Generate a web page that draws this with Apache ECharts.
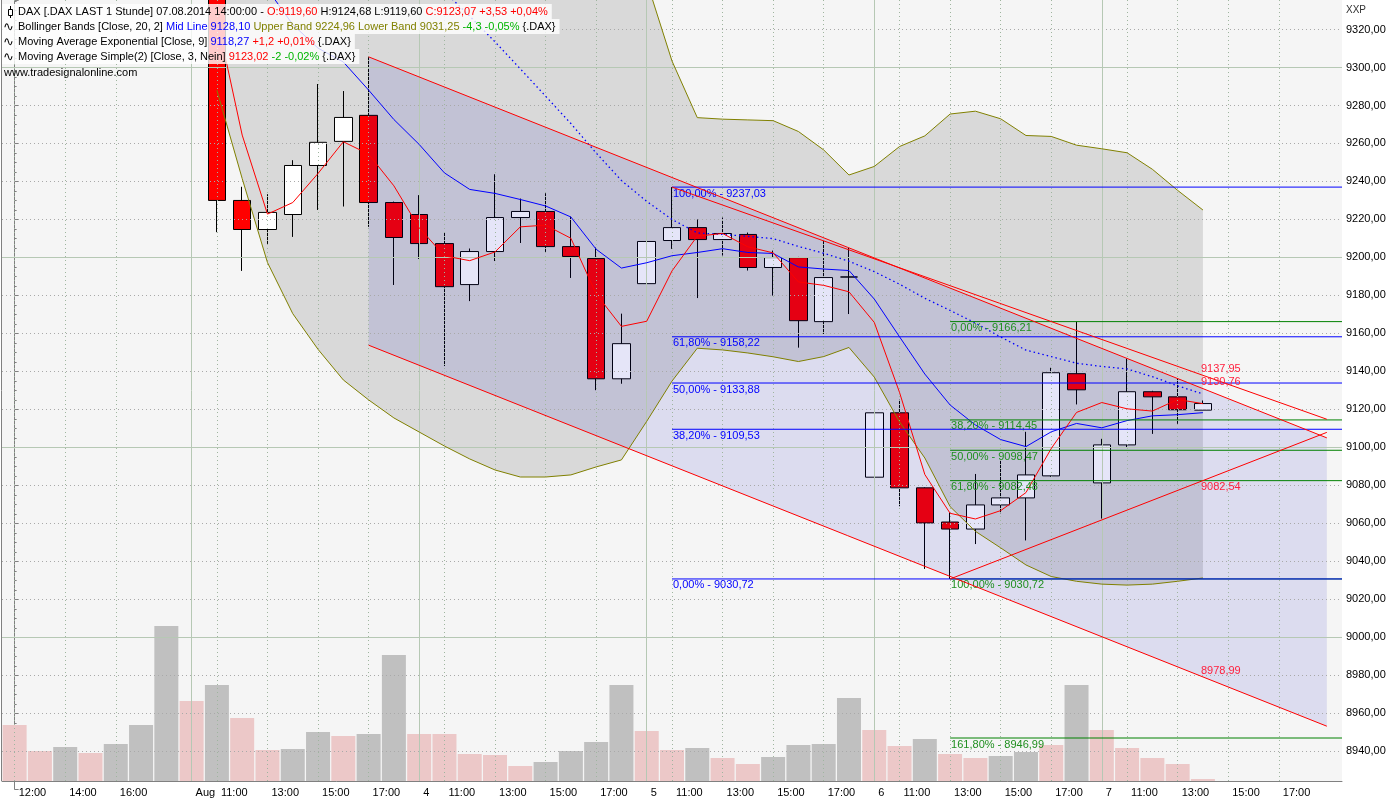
<!DOCTYPE html>
<html><head><meta charset="utf-8">
<script src="https://cdn.jsdelivr.net/npm/echarts@6/dist/echarts.min.js"></script>
<style>html,body{margin:0;padding:0;background:#fff}#c{width:1400px;height:800px}</style>
</head><body><div id="c"></div>
<script>
// ---------- categories / tick labels ----------
const times = [
 '31.07. 12:00','31.07. 13:00','31.07. 14:00','31.07. 15:00','31.07. 16:00','31.07. 17:00','31.07. 17:30',
 '01.08. 10:00','01.08. 11:00','01.08. 12:00','01.08. 13:00','01.08. 14:00','01.08. 15:00','01.08. 16:00','01.08. 17:00','01.08. 17:30',
 '04.08. 10:00','04.08. 11:00','04.08. 12:00','04.08. 13:00','04.08. 14:00','04.08. 15:00','04.08. 16:00','04.08. 17:00','04.08. 17:30',
 '05.08. 10:00','05.08. 11:00','05.08. 12:00','05.08. 13:00','05.08. 14:00','05.08. 15:00','05.08. 16:00','05.08. 17:00','05.08. 17:30',
 '06.08. 10:00','06.08. 11:00','06.08. 12:00','06.08. 13:00','06.08. 14:00','06.08. 15:00','06.08. 16:00','06.08. 17:00','06.08. 17:30',
 '07.08. 10:00','07.08. 11:00','07.08. 12:00','07.08. 13:00','07.08. 14:00','07.08. 15:00','07.08. 16:00','07.08. 17:00','07.08. 17:30',
 '08.08. 10:00'
];
const tickLabels = [
 '12:00','','14:00','','16:00','','',
 'Aug','11:00','','13:00','','15:00','','17:00','',
 '4','11:00','','13:00','','15:00','','17:00','',
 '5','11:00','','13:00','','15:00','','17:00','',
 '6','11:00','','13:00','','15:00','','17:00','',
 '7','11:00','','13:00','','15:00','','17:00','',
 ''
];
const dayStarts = [7, 16, 25, 34, 43];
const priceTicks = [8940,8960,8980,9000,9020,9040,9060,9080,9100,9120,9140,9160,9180,9200,9220,9240,9260,9280,9300,9320];

// ---------- price data (first bar with prices = index 8) ----------
const firstBar = 8;
const open  = [9349,9230.0,9214.7,9222.6,9248.4,9261.1,9274.8,9228.9,9222.6,9207.3,9185.7,9203.1,9221.0,9224.2,9205.7,9199.4,9136.1,9186.2,9208.9,9215.7,9209.4,9212.1,9194.7,9199.9,9166.2,9189.7,9084.3,9118.2,9078.7,9060.7,9057.0,9069.7,9073.4,9085.0,9138.8,9081.3,9101.3,9129.3,9126.6,9119.60];
const high  = [9352,9237.2,9233.3,9251.2,9291.3,9287.6,9305.4,9229.4,9232.8,9213.3,9204.7,9243.8,9231.0,9233.8,9221.5,9205.2,9170.4,9233.8,9237.03,9220.0,9221.0,9213.1,9203.6,9200.3,9209.2,9205.0,9129.3,9125.1,9079.0,9065.5,9086.0,9093.4,9108.2,9141.9,9166.21,9104.5,9146.7,9129.8,9136.1,9124.68];
const low   = [9213.3,9192.9,9207.1,9210.8,9225.0,9226.8,9216.1,9185.5,9199.2,9142.8,9177.0,9198.1,9207.6,9202.9,9189.2,9130.1,9133.5,9178.6,9204.5,9178.6,9201.0,9193.1,9179.9,9152.5,9159.7,9170.2,9063.7,9069.0,9036.0,9030.72,9049.1,9065.3,9051.0,9084.5,9122.6,9062.5,9099.8,9107.1,9112.4,9119.60];
const close = [9230.0,9214.7,9223.7,9248.4,9260.6,9273.7,9228.9,9210.5,9207.3,9184.6,9203.1,9221.0,9224.2,9205.7,9200.5,9136.1,9154.6,9208.4,9215.7,9209.4,9212.6,9194.7,9199.9,9166.7,9189.4,9189.7,9118.2,9078.7,9060.2,9057.0,9069.7,9073.4,9085.5,9139.3,9130.3,9101.3,9129.3,9126.6,9119.8,9123.07];

// indicators (from index 8)
const sma3   = [9326,9264.4,9222.8,9228.9,9244.2,9260.9,9254.4,9237.7,9215.6,9200.8,9198.3,9202.9,9216.1,9217.0,9210.1,9180.8,9163.7,9166.4,9192.9,9211.2,9212.6,9205.6,9202.4,9187.1,9185.3,9181.9,9165.8,9128.9,9085.7,9065.3,9062.3,9066.7,9076.2,9099.4,9118.4,9123.6,9120.3,9119.1,9125.2,9123.02];
const ema9   = [9409.6,9370.6,9341.2,9322.6,9310.2,9302.9,9288.1,9272.6,9259.5,9244.5,9235.8,9233.7,9230.5,9227.1,9221.3,9204.3,9194.4,9197.2,9200.9,9202.6,9204.6,9202.6,9202.1,9195.0,9193.9,9193.1,9178.1,9158.2,9138.6,9122.3,9111.8,9104.1,9100.4,9108.2,9112.6,9110.3,9114.1,9116.6,9117.2,9118.27];
const bbMid  = [9412,9408,9403,9397,9390,9382,9373,9363,9352,9340,9327,9313.5,9299.3,9284.9,9270.5,9255.0,9240.5,9229.5,9220.0,9212.9,9212.1,9211.1,9209.9,9205.8,9202.2,9198.0,9192.5,9185.9,9178.5,9172.1,9165.5,9158.1,9151.2,9147.8,9144.3,9142.6,9141.3,9137.2,9132.4,9128.10];
const bbUpper= [9536,9574.5,9609,9624,9628,9628.5,9621,9610.5,9596,9579,9560,9539,9514,9485,9455.5,9420,9387.6,9345.3,9303.4,9273.6,9272.8,9272.4,9272.0,9266.3,9256.6,9243.4,9247.9,9258.4,9264.0,9275.5,9277.0,9273.0,9264.2,9263.7,9259.1,9257.2,9255.1,9246.4,9235.3,9224.96];
const bbLower= [9288,9241.5,9197.3,9170.4,9151.6,9135.5,9125.0,9115.5,9108.1,9100.7,9093.9,9088.1,9084.4,9084.4,9085.5,9089.7,9093.4,9113.7,9134.9,9152.2,9151.3,9149.7,9147.7,9145.2,9147.8,9152.6,9137.0,9113.4,9094.4,9068.8,9055.8,9047.1,9038.1,9032.0,9029.5,9028.0,9027.5,9028.0,9029.5,9031.25];

// volume (from index 0), 1 = grey bar, 0 = pink bar
const volume = [1120,600,680,560,740,1120,3100,1600,1920,1260,620,640,980,900,940,2520,940,940,540,520,300,380,600,780,1920,1000,620,660,460,340,480,720,740,1660,1020,700,840,540,460,500,580,720,1920,1020,660,460,340,40];
const volUp  = [0,0,1,0,1,1,1,0,1,0,0,1,1,0,1,1,0,0,0,0,0,1,1,1,1,0,0,1,0,0,1,1,1,1,0,0,1,0,0,1,1,0,1,0,0,0,0,0];

// drawing tools: [barIndex, price]
const channelTop    = [[14, 9305.6], [51.9, 9105.0]];
const channelBottom = [[14, 9153.8], [51.9, 8953.2]];
const trendB        = [[26, 9237.03], [51.9, 9114.8]];
const trendC        = [[37, 9030.72], [51.9, 9107.9]];
const channelLabels = [9137.95, 9130.76, 9082.54, 8978.99];
const channelLabelBelow = [false, false, true, false];
const labelBar = 47;
const fibBlueStart = 26;
const fibBlueLevels = [100, 61.8, 50, 38.2, 0];
const fibBlueValues = [9237.03, 9158.22, 9133.88, 9109.53, 9030.72];
const fibGreenStart = 37;
const fibGreenLevels = [0, 38.2, 50, 61.8, 100, 161.8];
const fibGreenValues = [9166.21, 9114.45, 9098.47, 9082.48, 9030.72, 8946.99];

// ---------- build ----------
const N = times.length;
const FONT = '11px "Liberation Sans", Arial, sans-serif';
const pad = arr => { const o = new Array(N).fill('-'); arr.forEach((v, i) => { o[firstBar + i] = v; }); return o; };
const fmt = v => v.toFixed(2).replace('.', ',');
const candles = new Array(N).fill('-');
open.forEach((o, i) => { candles[firstBar + i] = [o, close[i], low[i], high[i]]; });
const bbWidth = bbUpper.map((u, i) => +(u - bbLower[i]).toFixed(2));
const volData = volume.map((v, i) => ({ value: v, itemStyle: { color: volUp[i] ? '#c0c0c0' : '#ecc8c8' } }));
const labelled = i => tickLabels[i] !== '';

const solidGrid = { type: 'solid', color: '#b6c8b4', width: 1 };
const dotGridH = { type: [1, 3], color: '#a9a9a9', width: 1 };
const dotGridV = { type: [1, 3], color: '#9fb59f', width: 1 };

const hLines = priceTicks.map(v => ({ yAxis: v, lineStyle: v % 100 === 0 ? solidGrid : dotGridH }));
const vLines = [];
tickLabels.forEach((t, i) => { if (t !== '') vLines.push({ xAxis: times[i], lineStyle: dayStarts.includes(i) ? solidGrid : dotGridV }); });

function renderDrawings(params, api) {
  const ch = [];
  const P = (x, v) => api.coord([x, v]);
  const seg = (a, b, color) => {
    const p1 = P(a[0], a[1]), p2 = P(b[0], b[1]);
    ch.push({ type: 'line', shape: { x1: p1[0], y1: p1[1], x2: p2[0], y2: p2[1] }, style: { stroke: color, lineWidth: 1 } });
  };
  const txt = (s, x, y, color, va) => ch.push({ type: 'text', style: { text: s, x: x, y: y, fill: color, font: FONT, align: 'left', verticalAlign: va, textAlign: 'left', textVerticalAlign: va } });
  const rightEdge = 52.5;
  fibGreenValues.forEach((v, k) => {
    seg([fibGreenStart, v], [rightEdge, v], '#008000');
    const p = P(fibGreenStart, v);
    txt(fmt(fibGreenLevels[k]) + '% - ' + fmt(v), p[0] + 1, p[1] + 1, '#1f8f1f', 'top');
  });
  fibBlueValues.forEach((v, k) => {
    seg([fibBlueStart, v], [rightEdge, v], '#0000ff');
    const p = P(fibBlueStart, v);
    txt(fmt(fibBlueLevels[k]) + '% - ' + fmt(v), p[0] + 1, p[1] + 1, '#0000ff', 'top');
  });
  [channelTop, channelBottom, trendB, trendC].forEach(l => seg(l[0], l[1], '#ff0000'));
  channelLabels.forEach((v, k) => {
    const p = P(labelBar, v);
    const below = channelLabelBelow[k];
    txt(fmt(v), p[0] - 2, below ? p[1] + 1 : p[1] - 1, '#ff1e3c', below ? 'top' : 'bottom');
  });
  return { type: 'group', children: ch };
}

function renderChannelFill(params, api) {
  const pts = [channelTop[0], channelTop[1], channelBottom[1], channelBottom[0]].map(p => api.coord(p));
  return { type: 'polygon', shape: { points: pts }, style: { fill: 'rgba(0,0,190,0.1)' } };
}

const rich = {
  k: { fill: '#000000', font: FONT },
  r: { fill: '#ff0000', font: FONT },
  b: { fill: '#0000ff', font: FONT },
  o: { fill: '#808000', font: FONT },
  g: { fill: '#00b400', font: FONT }
};
const legendRows = [
  '{k|DAX [.DAX LAST 1 Stunde] 07.08.2014 14:00:00 - }{r|O:9119,60}{k| H:9124,68 L:9119,60 }{r|C:9123,07 +3,53 +0,04%}',
  '{k|Bollinger Bands [Close, 20, 2] }{b|Mid Line 9128,10}{o| Upper Band 9224,96 Lower Band 9031,25}{g| -4,3 -0,05%} {.DAX}',
  '{k|Moving Average Exponential [Close, 9] }{b|9118,27}{r| +1,2 +0,01%} {.DAX}',
  '{k|Moving Average Simple(2) [Close, 3, Nein] }{r|9123,02}{g| -2 -0,02%} {.DAX}'
];
const graphics = [];
legendRows.forEach((t, r) => {
  graphics.push({ type: 'text', x: 2, y: 4 + r * 15, z: 100, style: { text: t, rich: rich, font: FONT, fill: '#000', backgroundColor: 'rgba(255,255,255,0.8)', padding: [2, 4, 1, 16], lineHeight: 12 } });
  if (r > 0) graphics.push({ type: 'text', x: 3, y: 6 + r * 15, z: 101, style: { text: '\u223F', font: '13px "DejaVu Sans", sans-serif', fill: '#000' } });
});
graphics.push({ type: 'line', z: 101, shape: { x1: 10.5, y1: 6, x2: 10.5, y2: 18 }, style: { stroke: '#000', lineWidth: 1 } });
graphics.push({ type: 'rect', z: 102, shape: { x: 8.5, y: 9.5, width: 4, height: 6 }, style: { fill: '#fff', stroke: '#000', lineWidth: 1 } });
graphics.push({ type: 'text', x: 4, y: 67, z: 100, style: { text: 'www.tradesignalonline.com', font: FONT, fill: '#000' } });
graphics.push({ type: 'text', x: 1346, y: 5, z: 100, style: { text: 'XXP', font: '10px "Liberation Sans", Arial, sans-serif', fill: '#333' } });
graphics.push({ type: 'line', z: 100, shape: { x1: 1.5, y1: 0, x2: 1.5, y2: 781 }, style: { stroke: '#808080', lineWidth: 1 } });

const lineS = (name, data, color, z, type) => ({
  name, type: 'line', xAxisIndex: 0, yAxisIndex: 0, data, symbol: 'none', silent: true, z,
  lineStyle: { color, width: type ? 1.3 : 1, type: type || 'solid' }
});

const option = {
  animation: false,
  backgroundColor: '#ffffff',
  grid: [
    { left: 2, top: 0, width: 1340, height: 789.27, show: false },
    { left: 2, top: 0, width: 1340, height: 781, show: true, backgroundColor: '#f5f5f5', borderWidth: 0 }
  ],
  xAxis: [
    { type: 'category', gridIndex: 0, data: times, show: false, boundaryGap: true },
    { type: 'category', gridIndex: 1, data: times, boundaryGap: true,
      axisLine: { lineStyle: { color: '#808080' } },
      axisTick: { alignWithLabel: true, interval: labelled, length: 5, lineStyle: { color: '#000' } },
      axisLabel: { interval: labelled, formatter: (v, i) => tickLabels[i], align: 'left', padding: [0, 0, 0, 4], margin: 6,
        color: '#000', fontSize: 11, fontFamily: '"Liberation Sans", Arial, sans-serif' },
      splitLine: { show: false } },
    { type: 'value', gridIndex: 0, min: -0.5, max: 52.5, show: false, position: 'top' }
  ],
  yAxis: [
    { type: 'value', gridIndex: 0, position: 'right', min: 8920, max: 9335.53, interval: 20,
      axisLine: { show: true, lineStyle: { color: '#808080' } },
      axisTick: { show: true, length: 4, lineStyle: { color: '#808080' } },
      minorTick: { show: true, splitNumber: 4, length: 2, lineStyle: { color: '#808080' } },
      axisLabel: { showMinLabel: false, showMaxLabel: false, margin: 4, formatter: v => fmt(v),
        color: '#000', fontSize: 11, fontFamily: '"Liberation Sans", Arial, sans-serif' },
      splitLine: { show: false } },
    { type: 'value', gridIndex: 1, min: 0, max: 15620, show: false }
  ],
  graphic: { elements: graphics },
  series: [
    { name: 'bbBase', type: 'line', xAxisIndex: 0, yAxisIndex: 0, data: pad(bbLower), stack: 'bb', symbol: 'none', silent: true, z: 1, lineStyle: { opacity: 0 } },
    { name: 'bbFill', type: 'line', xAxisIndex: 0, yAxisIndex: 0, data: pad(bbWidth), stack: 'bb', symbol: 'none', silent: true, z: 1, lineStyle: { opacity: 0 }, areaStyle: { color: '#d9d9d9', opacity: 1 } },
    { name: 'hGrid', type: 'line', xAxisIndex: 2, yAxisIndex: 0, data: [], silent: true, z: 2,
      markLine: { silent: true, symbol: 'none', label: { show: false }, animation: false, data: hLines } },
    { name: 'vGrid', type: 'line', xAxisIndex: 1, yAxisIndex: 1, data: [], silent: true, z: 2,
      markLine: { silent: true, symbol: 'none', label: { show: false }, animation: false, data: vLines } },
    { name: 'Volume', type: 'bar', xAxisIndex: 1, yAxisIndex: 1, data: volData, barWidth: 24, silent: true, z: 3 },
    { name: 'DAX', type: 'candlestick', xAxisIndex: 0, yAxisIndex: 0, data: candles, barWidth: 18, silent: true, z: 3,
      itemStyle: { color: '#ffffff', color0: '#ff0000', borderColor: '#000000', borderColor0: '#000000', borderColorDoji: '#000000', borderWidth: 1 } },
    { name: 'channelFill', type: 'custom', xAxisIndex: 2, yAxisIndex: 0, data: [[0, 9000]], renderItem: renderChannelFill, silent: true, clip: true, z: 4 },
    lineS('BB Upper', pad(bbUpper), '#808000', 5),
    lineS('BB Lower', pad(bbLower), '#808000', 5),
    lineS('BB Mid', pad(bbMid), '#0000ff', 5, [1.5, 3]),
    lineS('EMA 9', pad(ema9), '#0000ff', 5),
    lineS('SMA 3', pad(sma3), '#ff0000', 5),
    { name: 'drawings', type: 'custom', xAxisIndex: 2, yAxisIndex: 0, data: [[0, 9000]], renderItem: renderDrawings, silent: true, clip: true, z: 6 }
  ]
};
const chart = echarts.init(document.getElementById('c'), null, { renderer: 'canvas', width: 1400, height: 800 });
chart.setOption(option);
</script>
</body></html>
